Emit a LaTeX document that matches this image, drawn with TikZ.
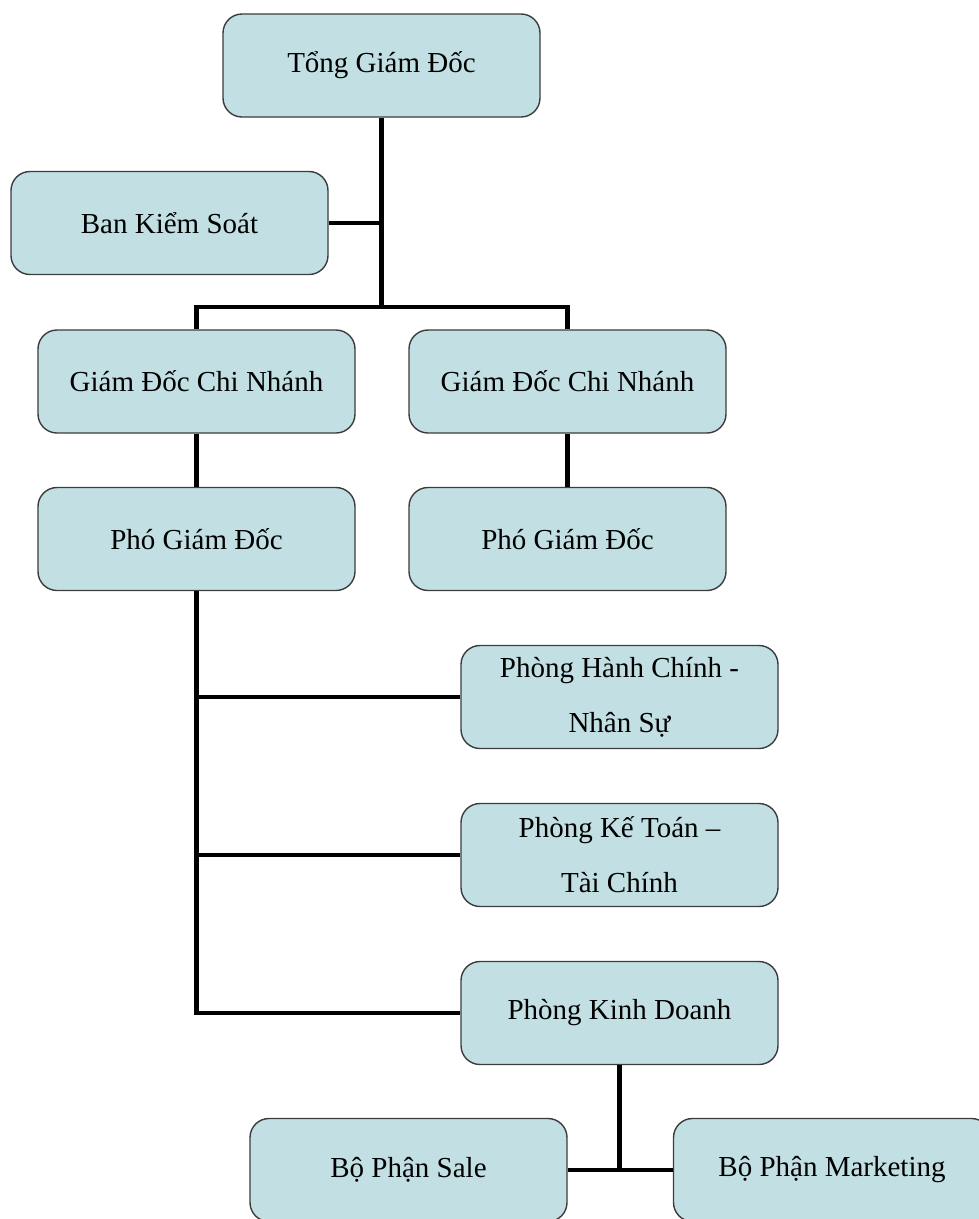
\documentclass[tikz,border=0pt]{standalone}
\usepackage{fontspec}
\setmainfont{Liberation Serif}
\definecolor{boxfill}{RGB}{194,224,227}
\definecolor{boxline}{RGB}{60,60,60}
\tikzset{
  orgbox/.style={draw=boxline, fill=boxfill, line width=1.4pt, rounded corners=19pt,
    minimum width=317pt, minimum height=103pt, inner sep=0pt, align=center,
    font=\fontsize{29}{55}\selectfont},
  conn/.style={draw=black, line width=4.5pt, line join=miter}
}
\begin{document}
\begin{tikzpicture}[x=1pt,y=-1pt]
\useasboundingbox (0,0) rectangle (979,1219);
\clip (0,0) rectangle (979,1219);
\node[orgbox] (tgd) at (381.5,65.5) {Tổng Giám Đốc};
\node[orgbox] (bks) at (169.5,223) {Ban Kiểm Soát};
\node[orgbox] (gd1) at (196.5,381.5) {Giám Đốc Chi Nhánh};
\node[orgbox] (gd2) at (567.5,381.5) {Giám Đốc Chi Nhánh};
\node[orgbox] (pgd1) at (196.5,539) {Phó Giám Đốc};
\node[orgbox] (pgd2) at (567.5,539) {Phó Giám Đốc};
\node[orgbox] (hc) at (619.5,697) {Phòng Hành Chính -\\Nhân Sự};
\node[orgbox] (kt) at (619.5,855) {Phòng Kế Toán –\\Tài Chính};
\node[orgbox] (kd) at (619.5,1013) {Phòng Kinh Doanh};
\node[orgbox] (sale) at (408.5,1170) {Bộ Phận Sale};
\node[orgbox] (mkt) at (832,1170) {Bộ Phận Marketing};
\coordinate (j) at (381.5,307);
\draw[conn] (tgd.south) -- (j);
\draw[conn] (bks.east) -- (bks.east -| j);
\draw[conn] (gd1.north) |- (j) -| (gd2.north);
\draw[conn] (gd1.south) -- (pgd1.north);
\draw[conn] (gd2.south) -- (pgd2.north);
\draw[conn] (pgd1.south) |- (kd.west);
\draw[conn] (pgd1.south |- hc.west) -- (hc.west);
\draw[conn] (pgd1.south |- kt.west) -- (kt.west);
\draw[conn] (kd.south) -- (kd.south |- sale.east);
\draw[conn] (sale.east) -- (mkt.west);
\end{tikzpicture}
\end{document}
